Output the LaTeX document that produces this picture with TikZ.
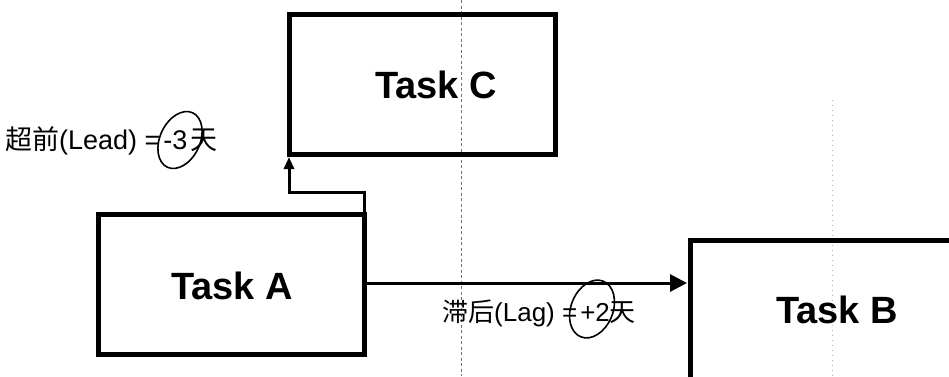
\documentclass[tikz,border=0pt]{standalone}
\usepackage{fontspec}
\setmainfont{Liberation Sans}
\newfontfamily\cjk{Noto Sans CJK SC}
\usetikzlibrary{arrows.meta}
\begin{document}
\begin{tikzpicture}[x=1pt,y=-1pt,
  taskbox/.style={draw, line width=5pt, minimum width=266.5pt, minimum height=140pt, inner sep=0pt, outer sep=0pt},
  tasklabel/.style={font=\fontsize{38}{41}\selectfont\bfseries, inner sep=0pt},
  conn/.style={line width=3pt},
  lbl/.style={inner sep=0pt, anchor=west},
  ring/.style={line width=1.6pt},
  guide/.style={black!55, line width=0.8pt, dash pattern=on 3pt off 2.5pt}]
\useasboundingbox (0,0) rectangle (949,376);
\clip (0,0) rectangle (949,376);
\fill[white] (0,0) rectangle (949,376);
% faint guide lines
\draw[guide] (461,0) -- (461,376);
\draw[black!30, line width=0.6pt, dash pattern=on 1pt off 4pt] (832,100) -- (832,376);
% boxes
\node[taskbox] (boxC) at (422.25,84) {};
\node[taskbox] (boxA) at (231.25,284.5) {};
\node[taskbox] (boxB) at (823.25,310) {};
\node[tasklabel] (tC) at (436,85) {Task C};
\node[tasklabel] (tA) at (232,286) {Task A};
\node[tasklabel] (tB) at (837,310) {Task B};
% connectors
\draw[conn, -{Triangle[length=12pt,width=10pt]}, shorten >=3pt]
  (boxA.north east) -- ++(0,-22) -| (boxC.south west);
\draw[conn, -{Triangle[length=17pt,width=17pt]}, shorten >=3pt]
  ([yshift=1.5pt]boxA.east) -- ([yshift=1.5pt]boxA.east -| boxB.west);
% labels
\node[lbl, font=\fontsize{27}{30}\selectfont] (lead) at (5,141) {{\cjk 超前}(Lead) =\hspace{3pt}-3\hspace{3pt}{\cjk 天}};
\node[lbl, font=\fontsize{26}{29}\selectfont] (lag) at (442,313) {{\cjk 滞后}(Lag) =\hspace{3pt}+2{\cjk 天}};
% hand-drawn rings
\draw[ring, rotate around={65:(180,140)}] (180,140) ellipse [x radius=30, y radius=20];
\draw[ring, rotate around={68:(592,309)}] (592,309) ellipse [x radius=30, y radius=21];
\end{tikzpicture}
\end{document}
